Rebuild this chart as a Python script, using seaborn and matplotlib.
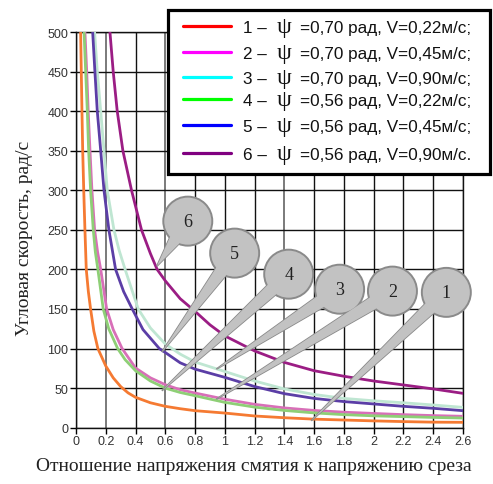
import numpy as np
import pandas as pd
import matplotlib
matplotlib.use("Agg")
import matplotlib.pyplot as plt
import seaborn as sns
from matplotlib.lines import Line2D
from matplotlib.patches import Polygon, Ellipse, Rectangle

# ---------------- data ----------------
x1 = [0.031, 0.0355, 0.040, 0.045, 0.052, 0.060, 0.069, 0.083, 0.098, 0.12, 0.147, 0.2, 0.25, 0.3, 0.35,
      0.4, 0.5, 0.6, 0.7, 0.8, 1.0, 1.2, 1.4, 1.6, 1.8, 2.0, 2.2, 2.4, 2.6]
y1 = [500, 450, 400, 350, 300, 250, 200, 172, 150, 122, 100, 78, 63, 52, 44,
      38.4, 31.5, 27, 24, 21.5, 18.5, 14.8, 12.6, 10.8, 9.7, 8.6, 7.7, 7.0, 6.8]

x2 = [0.06, 0.072, 0.082, 0.094, 0.107, 0.125, 0.145, 0.166, 0.206, 0.25, 0.31, 0.4, 0.5, 0.6, 0.7, 0.8,
      1.0, 1.2, 1.4, 1.6, 1.8, 2.0, 2.2, 2.4, 2.6]
y2 = [500, 450, 400, 350, 300, 250, 222, 200, 150, 124, 100, 75.4, 63, 54.3, 48, 43.8,
      36, 29.5, 25, 21.8, 19.6, 18, 16.5, 15.3, 14.4]

x3 = [0.125, 0.143, 0.166, 0.188, 0.21, 0.255, 0.29, 0.33, 0.418, 0.5, 0.6, 0.7, 0.8,
      1.0, 1.2, 1.4, 1.6, 1.8, 2.0, 2.2, 2.4, 2.6]
y3 = [500, 450, 400, 350, 300, 250, 224, 200, 150, 126, 105.7, 93, 83,
      71, 59, 49, 42, 37, 34, 31.5, 28.7, 25.7]

x4 = [0.054, 0.065, 0.076, 0.085, 0.098, 0.116, 0.13, 0.147, 0.183, 0.22, 0.28, 0.33, 0.4, 0.5, 0.6, 0.7, 0.8,
      1.0, 1.2, 1.4, 1.6, 1.8, 2.0, 2.2, 2.4, 2.6]
y4 = [500, 450, 400, 350, 300, 250, 222, 200, 150, 125, 100, 86, 72, 59, 50, 44.5, 40.4,
      32, 26, 21.8, 18.7, 16.5, 15, 14, 13, 12.2]

x5 = [0.112, 0.127, 0.143, 0.166, 0.188, 0.221, 0.266, 0.32, 0.378, 0.45, 0.56, 0.6, 0.7, 0.8,
      1.0, 1.2, 1.4, 1.6, 1.8, 2.0, 2.2, 2.4, 2.6]
y5 = [500, 450, 400, 350, 300, 250, 200, 172, 150, 124, 100, 95, 82, 74,
      63.6, 52, 43, 37, 33, 30, 27, 24.5, 21.5]

x6 = [0.228, 0.25, 0.277, 0.315, 0.373, 0.44, 0.5, 0.545, 0.6, 0.7, 0.8, 0.9,
      1.0, 1.2, 1.4, 1.6, 1.8, 2.0, 2.2, 2.4, 2.6]
y6 = [500, 450, 400, 350, 300, 250, 220, 200, 185.6, 163, 147, 130,
      116, 97, 82.5, 72, 65, 59, 54, 49, 43.4]

series_ids = ["1", "2", "3", "4", "5", "6"]
psi_values = ["0,70", "0,70", "0,70", "0,56", "0,56", "0,56"]
v_values = ["0,22", "0,45", "0,90", "0,22", "0,45", "0,90"]
line_ends = [";", ";", ";", ";", ";", "."]

x_ticks = [0, 0.2, 0.4, 0.6, 0.8, 1, 1.2, 1.4, 1.6, 1.8, 2, 2.2, 2.4, 2.6]
x_ticklabels = ["0", "0.2", "0.4", "0.6", "0.8", "1", "1.2", "1.4", "1.6", "1.8", "2", "2.2", "2.4", "2.6"]
y_ticks = [0, 50, 100, 150, 200, 250, 300, 350, 400, 450, 500]

# callouts: label, balloon centre (data), pointer tip (data)
callout_labels = ["6", "5", "4", "3", "2", "1"]
callout_centres = [(0.751, 261), (1.066, 220.6), (1.429, 194), (1.771, 175), (2.126, 172.6), (2.488, 171)]
callout_tips = [(0.543, 204), (0.577, 95.6), (0.577, 46.7), (0.943, 74), (0.943, 36), (1.58, 8.8)]

# ---------------- styling ----------------
line_colors = {"1": "#F57A32", "2": "#D86FB8", "3": "#BFE6D2",
               "4": "#8ECF76", "5": "#5B3EA6", "6": "#9B1D84"}
legend_colors = ["#FF0000", "#FF00FF", "#00FFFF", "#00FF00", "#0000FF", "#800080"]

sns.set_theme(style="white")
plt.rcParams["font.family"] = ["Liberation Sans", "DejaVu Sans"]
SERIF = ["Liberation Serif", "DejaVu Serif"]

frames = []
for sid, xs, ys in zip(series_ids, [x1, x2, x3, x4, x5, x6], [y1, y2, y3, y4, y5, y6]):
    frames.append(pd.DataFrame({"x": xs, "y": ys, "series": sid}))
df = pd.concat(frames, ignore_index=True)

W, H = 493, 485
fig = plt.figure(figsize=(W / 100, H / 100), dpi=100)
ax = fig.add_axes([76 / W, 1 - 428.7 / H, (463 - 76) / W, (428.7 - 33) / H])

sns.lineplot(data=df, x="x", y="y", hue="series", palette=line_colors,
             estimator=None, sort=False, units="series", linewidth=2.0,
             legend=False, ax=ax, zorder=3)

ax.set_xlim(0, 2.6)
ax.set_ylim(0, 500)
ax.set_xticks(x_ticks)
ax.set_xticklabels(x_ticklabels)
ax.set_yticks(y_ticks)
ax.set_yticklabels([str(v) for v in y_ticks])
ax.tick_params(axis="both", which="both", length=4, width=1, color="black",
               direction="out", labelsize=9, labelcolor="#333333", pad=1.5,
               bottom=True, left=True)
ax.set_xlabel("")
ax.set_ylabel("")

# grid
gray_x = {0.2, 0.6, 1.4}
for xv in x_ticks:
    if xv in gray_x:
        ax.axvline(xv, color="#7a7a7a", lw=1.4, zorder=1)
    else:
        ax.axvline(xv, color="#111111", lw=1.0, zorder=1)
for yv in y_ticks:
    ax.axhline(yv, color="#111111", lw=1.0, zorder=1)
for s in ax.spines.values():
    s.set_color("#111111")
    s.set_linewidth(1.0)

# callouts
fig.canvas.draw()
to_px = ax.transData.transform
to_data = ax.transData.inverted().transform
r_px = 24.5
for lab, c, t in zip(callout_labels, callout_centres, callout_tips):
    cp = to_px(c)
    tp = to_px(t)
    d = tp - cp
    d = d / np.hypot(*d)
    n = np.array([-d[1], d[0]])
    base = cp + d * r_px * 0.75
    half = 6.5
    poly_px = np.array([base + n * half, tp, base - n * half])
    poly = to_data(poly_px)
    ax.add_patch(Polygon(poly, closed=True, facecolor="#C2C2C2", edgecolor="#8a8a8a",
                         lw=1.2, zorder=5, clip_on=False))
    w = 2 * r_px / (to_px((1, 0))[0] - to_px((0, 0))[0])
    h = 2 * r_px / (to_px((0, 1))[1] - to_px((0, 0))[1])
    ax.add_patch(Ellipse(c, w, h, facecolor="#C2C2C2", edgecolor="#8a8a8a",
                         lw=1.4, zorder=6, clip_on=False))
    ax.add_patch(Polygon(poly, closed=True, facecolor="#C2C2C2", edgecolor="none",
                         lw=0, zorder=7, clip_on=False))
    ax.text(c[0], c[1], lab, ha="center", va="center", fontsize=13,
            family=SERIF, color="#222222", zorder=8)

# legend, drawn by hand in figure pixels (the original legend colours differ from the curves)
def fx(px):
    return px / W


def fy(py):
    return 1 - py / H


fig.add_artist(Rectangle((fx(168), fy(175)), fx(490) - fx(168), fy(11) - fy(175),
                         transform=fig.transFigure, facecolor="white", edgecolor="black",
                         lw=2.3, zorder=20))
row_y = [27, 53, 78, 100, 126, 154]
for i in range(6):
    yy = row_y[i]
    fig.add_artist(Line2D([fx(183), fx(231)], [fy(yy), fy(yy)], color=legend_colors[i],
                          lw=2.3, transform=fig.transFigure, zorder=21))
    fig.text(fx(243), fy(yy + 6), f"{series_ids[i]} –", ha="left", va="baseline",
             fontsize=12.3, color="#111111", zorder=22)
    fig.text(fx(277), fy(yy + 6), "ψ", ha="left", va="baseline",
             fontsize=17, family=SERIF, color="#111111", zorder=22)
    fig.text(fx(300), fy(yy + 6), f"={psi_values[i]} рад, V={v_values[i]}м/с{line_ends[i]}",
             ha="left", va="baseline", fontsize=12.3, color="#111111", zorder=22)

# axis titles
fig.text(fx(254), fy(467), "Отношение напряжения смятия к напряжению среза",
         ha="center", va="center", fontsize=14, family=SERIF, color="#222222")
fig.text(fx(25), fy(238), "Угловая скорость, рад/с", rotation=90,
         ha="center", va="center", fontsize=14, family=SERIF, color="#222222")

fig.savefig("out.png", dpi=100)
